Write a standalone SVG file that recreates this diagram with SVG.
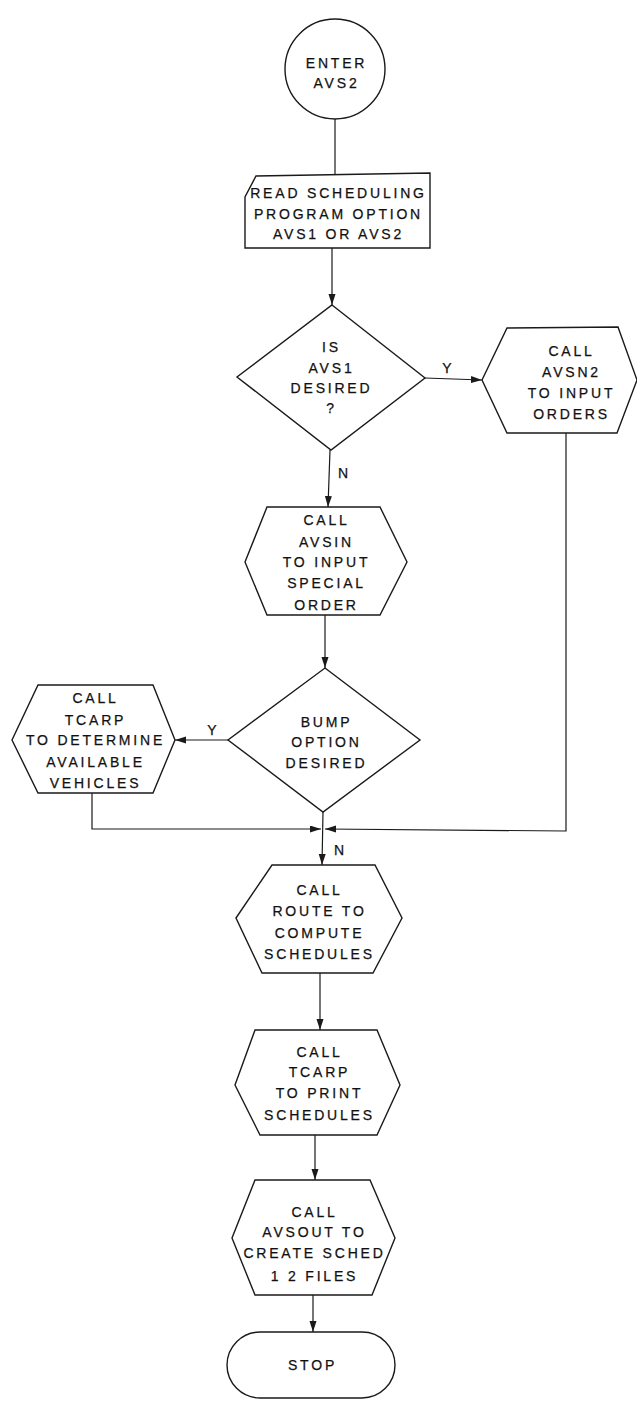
<svg xmlns="http://www.w3.org/2000/svg" width="637" height="1410" viewBox="0 0 637 1410">
  <style>
    .shape { fill: #ffffff; stroke: #1a1a1a; stroke-width: 1.4; }
    .wire { fill: none; stroke: #1a1a1a; stroke-width: 1.2; }
    text { font-family: "Liberation Sans", Arial, sans-serif; font-size: 14px; fill: #111111; stroke: #111111; stroke-width: 0.25; text-anchor: middle; letter-spacing: 2.8px; }
    .lbl { letter-spacing: 0; }
  </style>
  <defs>
    <marker id="arrow" markerUnits="userSpaceOnUse" markerWidth="12" markerHeight="8" refX="11" refY="3.5" orient="auto">
      <path d="M0,0 L11,3.5 L0,7 Z" fill="#1a1a1a"/>
    </marker>
  </defs>
  <rect width="637" height="1410" fill="#ffffff"/>

  <!-- connectors -->
  <g id="connectors">
    <line class="wire" x1="335" y1="119" x2="335" y2="174"/>
    <line class="wire" x1="332" y1="248" x2="332" y2="305" marker-end="url(#arrow)"/>
    <line class="wire" x1="425" y1="378" x2="482" y2="380" marker-end="url(#arrow)"/>
    <text class="lbl" x="447" y="373">Y</text>
    <line class="wire" x1="330" y1="450" x2="328" y2="507" marker-end="url(#arrow)"/>
    <text class="lbl" x="343" y="478">N</text>
    <line class="wire" x1="325" y1="615" x2="325" y2="668" marker-end="url(#arrow)"/>
    <line class="wire" x1="228" y1="740" x2="175" y2="740" marker-end="url(#arrow)"/>
    <text class="lbl" x="212" y="735">Y</text>
    <polyline class="wire" points="92,793 92,829 321,829" marker-end="url(#arrow)"/>
    <polyline class="wire" points="566,433 566,831 325,829" marker-end="url(#arrow)"/>
    <line class="wire" x1="323" y1="812" x2="322" y2="865" marker-end="url(#arrow)"/>
    <text class="lbl" x="339" y="855">N</text>
    <line class="wire" x1="320" y1="973" x2="320" y2="1030" marker-end="url(#arrow)"/>
    <line class="wire" x1="315" y1="1135" x2="315" y2="1180" marker-end="url(#arrow)"/>
    <line class="wire" x1="313" y1="1295" x2="313" y2="1332" marker-end="url(#arrow)"/>
  </g>

  <!-- entry point -->
  <g id="enter">
    <circle class="shape" cx="335" cy="69" r="50"/>
    <text x="336.5" y="68">ENTER</text>
    <text x="336.5" y="88">AVS2</text>
  </g>

  <!-- card input -->
  <g id="read-option">
    <polygon class="shape" points="256,176 430,173 430,248 245,248 245,197"/>
    <text x="338.5" y="198">READ SCHEDULING</text>
    <text x="338.5" y="219">PROGRAM OPTION</text>
    <text x="338.5" y="239">AVS1 OR AVS2</text>
  </g>

  <g id="is-avs1">
    <polygon class="shape" points="332,305 425,378 331,450 237,377"/>
    <text x="331.5" y="352">IS</text>
    <text x="331.5" y="373">AVS1</text>
    <text x="331.5" y="393">DESIRED</text>
    <text x="331.5" y="413">?</text>
  </g>

  <g id="call-avsn2">
    <polygon class="shape" points="482,380 507,328 618,327 637,380 617,433 507,433"/>
    <text x="571.5" y="356">CALL</text>
    <text x="571.5" y="377">AVSN2</text>
    <text x="571.5" y="398">TO INPUT</text>
    <text x="571.5" y="419">ORDERS</text>
  </g>

  <g id="call-avsin">
    <polygon class="shape" points="245,562 267,507 380,507 407,562 380,615 267,615"/>
    <text x="326.5" y="525">CALL</text>
    <text x="326.5" y="547">AVSIN</text>
    <text x="326.5" y="567">TO INPUT</text>
    <text x="326.5" y="588">SPECIAL</text>
    <text x="326.5" y="610">ORDER</text>
  </g>

  <g id="bump-option">
    <polygon class="shape" points="325,668 420,740 323,812 228,740"/>
    <text x="326.5" y="727">BUMP</text>
    <text x="326.5" y="747">OPTION</text>
    <text x="326.5" y="768">DESIRED</text>
  </g>

  <g id="call-tcarp-vehicles">
    <polygon class="shape" points="12,740 38,685 153,685 175,740 153,793 38,793"/>
    <text x="95.5" y="703">CALL</text>
    <text x="95.5" y="725">TCARP</text>
    <text x="95.5" y="745">TO DETERMINE</text>
    <text x="95.5" y="767">AVAILABLE</text>
    <text x="95.5" y="788">VEHICLES</text>
  </g>

  <g id="call-route">
    <polygon class="shape" points="236,918 272,865 375,865 402,918 373,973 262,973"/>
    <text x="319.5" y="895">CALL</text>
    <text x="319.5" y="916">ROUTE TO</text>
    <text x="319.5" y="938">COMPUTE</text>
    <text x="319.5" y="959">SCHEDULES</text>
  </g>

  <g id="call-tcarp-print">
    <polygon class="shape" points="235,1085 255,1030 377,1030 400,1085 377,1135 260,1135"/>
    <text x="319.5" y="1057">CALL</text>
    <text x="319.5" y="1077">TCARP</text>
    <text x="319.5" y="1098">TO PRINT</text>
    <text x="319.5" y="1120">SCHEDULES</text>
  </g>

  <g id="call-avsout">
    <polygon class="shape" points="232,1238 255,1180 370,1180 395,1238 372,1295 255,1295"/>
    <text x="314.5" y="1217">CALL</text>
    <text x="314.5" y="1237">AVSOUT TO</text>
    <text x="314.5" y="1258">CREATE SCHED</text>
    <text x="314.5" y="1281">1 2 FILES</text>
  </g>

  <g id="stop">
    <rect class="shape" x="227" y="1332" width="168" height="66" rx="33" ry="33"/>
    <text x="312.5" y="1370">STOP</text>
  </g>
</svg>
